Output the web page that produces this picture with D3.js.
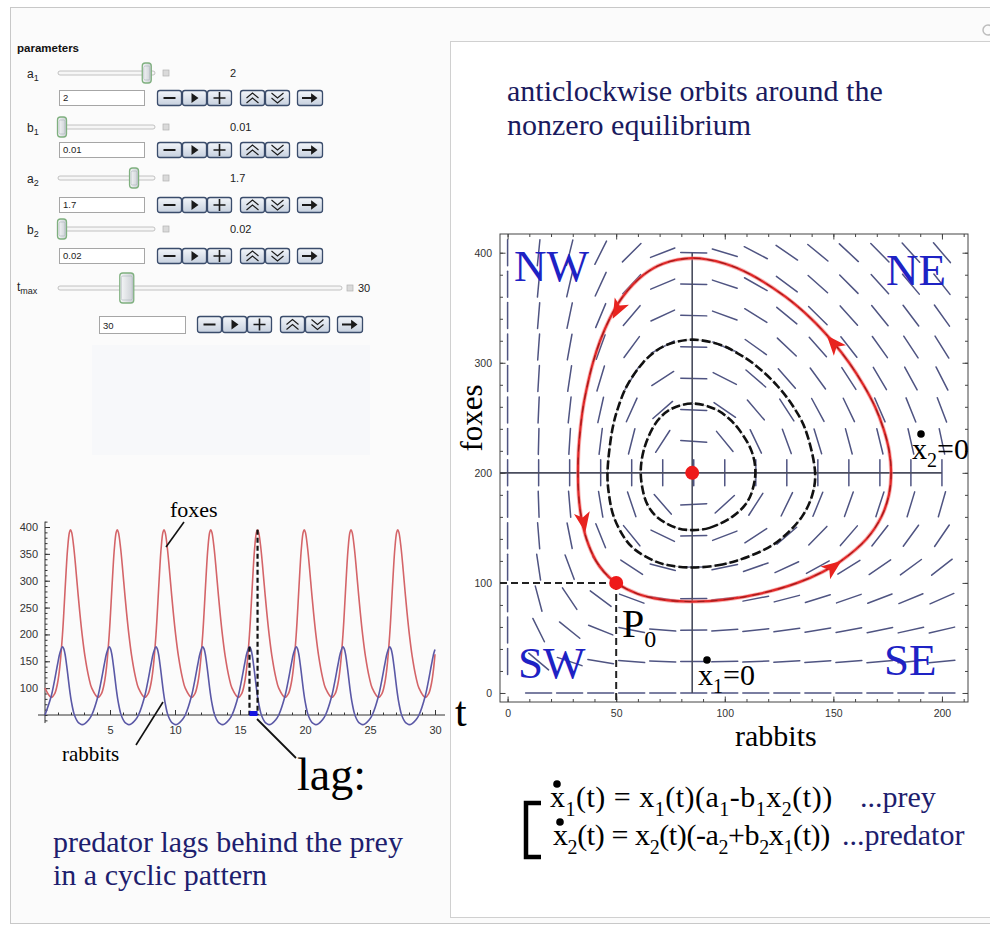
<!DOCTYPE html>
<html><head><meta charset="utf-8">
<script src="https://cdn.jsdelivr.net/npm/d3@7"></script>
<style>body{margin:0;background:#fff;} svg{display:block;} text{white-space:pre;}</style>
</head><body>
<svg id="c" width="990" height="926"></svg>
<script>
// ---------------- DATA ----------------
const paramLabelMain = ["a","b","a","b"];
const paramLabelSub  = ["1","1","2","2"];
const paramValues    = [2, 0.01, 1.7, 0.02];
const paramRanges    = [[0,2.1],[0.01,0.1],[0,2.1],[0.02,0.1]];
const tmaxValue = 30;
const tmaxRange = [1,125];

// time series (t, rabbits, foxes)
const tsTimes = [
0,0.478,0.747,0.970,1.141,1.345,1.446,1.537,1.630,1.740,1.878,1.963,2.052,2.223,2.380,2.526,2.680,2.855,3.069,3.368,
3.596,4.074,4.343,4.566,4.737,4.941,5.042,5.133,5.226,5.336,5.474,5.559,5.648,5.819,5.976,6.122,6.276,6.451,6.665,6.964,
7.192,7.670,7.939,8.162,8.333,8.537,8.638,8.729,8.822,8.932,9.070,9.155,9.244,9.415,9.572,9.718,9.872,10.047,10.261,10.560,
10.788,11.266,11.535,11.758,11.929,12.133,12.234,12.325,12.418,12.528,12.666,12.751,12.840,13.011,13.168,13.314,13.468,13.643,13.857,14.156,
14.384,14.862,15.131,15.354,15.525,15.729,15.830,15.921,16.014,16.124,16.262,16.347,16.436,16.607,16.764,16.910,17.064,17.239,17.453,17.752,
17.980,18.458,18.727,18.950,19.121,19.325,19.426,19.517,19.610,19.720,19.858,19.943,20.032,20.203,20.360,20.506,20.660,20.835,21.049,21.348,
21.576,22.054,22.323,22.546,22.717,22.921,23.022,23.113,23.206,23.316,23.454,23.539,23.628,23.799,23.956,24.102,24.256,24.431,24.645,24.944,
25.172,25.650,25.919,26.142,26.313,26.517,26.618,26.709,26.802,26.912,27.050,27.135,27.224,27.395,27.552,27.698,27.852,28.027,28.241,28.540,
28.768,29.246,29.515,29.738,29.909,30.0];
const tsRabbits = [
50,85,116,145,165,177,173,164,149,128,100,85,72,53,43,37,34,32,34,41,
50,85,116,145,165,177,173,164,149,128,100,85,72,53,43,37,34,32,34,41,
50,85,116,145,165,177,173,164,149,128,100,85,72,53,43,37,34,32,34,41,
50,85,116,145,165,177,173,164,149,128,100,85,72,53,43,37,34,32,34,41,
50,85,116,145,165,177,173,164,149,128,100,85,72,53,43,37,34,32,34,41,
50,85,116,145,165,177,173,164,149,128,100,85,72,53,43,37,34,32,34,41,
50,85,116,145,165,177,173,164,149,128,100,85,72,53,43,37,34,32,34,41,
50,85,116,145,165,177,173,164,149,128,100,85,72,53,43,37,34,32,34,41,
50,85,116,145,165,172];
const tsFoxes = [
100,83,90,110,140,200,240,280,320,360,390,395,390,360,320,280,240,200,160,120,
100,83,90,110,140,200,240,280,320,360,390,395,390,360,320,280,240,200,160,120,
100,83,90,110,140,200,240,280,320,360,390,395,390,360,320,280,240,200,160,120,
100,83,90,110,140,200,240,280,320,360,390,395,390,360,320,280,240,200,160,120,
100,83,90,110,140,200,240,280,320,360,390,395,390,360,320,280,240,200,160,120,
100,83,90,110,140,200,240,280,320,360,390,395,390,360,320,280,240,200,160,120,
100,83,90,110,140,200,240,280,320,360,390,395,390,360,320,280,240,200,160,120,
100,83,90,110,140,200,240,280,320,360,390,395,390,360,320,280,240,200,160,120,
100,83,90,110,140,163];
const tsYTicks = [100,150,200,250,300,350,400];
const tsXTicks = [5,10,15,20,25,30];
const lagTimes = [15.73, 16.35];
const lagPeaks = [177, 395];

// phase plane
const phaseXTicks = [0,50,100,150,200];
const phaseYTicks = [0,100,200,300,400];
const equilibrium = [85,200];
const startPoint = [50,100];
const orbitP0 = [[85,83],[101,85],[115.8,90],[133.4,100],[145,110],[153.6,120],[165.3,140],[172.1,160],[175.6,180],[176.6,200],[175.7,220],[173.1,240],[169.2,260],[163.8,280],[157.3,300],[149.3,320],[139.8,340],[127.9,360],[112.1,380],[100.2,390],[85,395],[71.6,390],[62.7,380],[53,360],[47,340],[42.6,320],[39.3,300],[36.8,280],[34.8,260],[33.5,240],[32.65,220],[32.4,200],[32.7,180],[33.9,160],[36.3,140],[40.7,120],[44.4,110],[50,100],[60,90],[70.7,85]];
const orbitOuter = [[85,114],[96.8,116],[105.2,120],[118,130],[125.9,140],[135.5,160],[140.3,180],[141.6,200],[137,240],[131.6,260],[123.8,280],[112.7,300],[104.7,310],[98.5,316],[85,321],[73,316],[67.8,310],[62.3,300],[55.2,280],[51,260],[48.3,240],[46,200],[46.7,180],[48.9,160],[54.1,140],[58.8,130],[67.5,120],[74.2,116]];
const orbitInner = [[85,148],[93,150],[103.4,160],[109,170],[112,180],[114.1,200],[112.3,220],[106.3,240],[101.5,250],[95.5,258],[85,263],[75.3,258],[70.2,250],[66.6,240],[62.6,220],[61.3,200],[62.75,180],[64.7,170],[68.7,160],[77.7,150]];
const arrowSpots = [[50.5,348],[35,155],[150,114.5],[150,318]];
const fieldX = [0,14.29,28.57,42.86,57.14,71.43,85.71,100,114.29,128.57,142.86,157.14,171.43,185.71,200];
const fieldY = [0,28.57,57.14,85.71,114.29,142.86,171.43,200,228.57,257.14,285.71,314.29,342.86,371.43,400];
// segment angle (degrees, screen) at each grid point; row = fieldY index, column = fieldX index
const fieldAngles = [
[null,0,0,0,0,0,0,0,0,0,0,0,0,0,0],
[90,-40,-18.5,-9.4,-4.7,-1.8,0.1,1.5,2.5,3.3,3.9,4.4,4.9,5.2,5.6],
[90,-63.5,-38.7,-21.7,-11.2,-4.4,0.2,3.5,5.9,7.8,9.3,10.5,11.6,12.4,13.1],
[90,-75.1,-56.3,-36.8,-20.3,-8.2,0.4,6.5,11.0,14.5,17.1,19.2,21.0,22.4,23.6],
[90,-81.5,-69.5,-53.0,-33.4,-14.4,0.6,11.5,19.1,24.6,28.7,31.8,34.3,36.2,37.9],
[90,-85.4,-78.7,-68.1,-51.0,-25.7,1.2,20.8,33.0,40.7,45.8,49.3,52.0,54.0,55.6],
[90,-88.1,-85.2,-80.5,-71.4,-49.1,2.9,42.4,57.3,64.1,67.9,70.3,72.0,73.1,74.0],
[90,90,90,90,90,90,90,90,90,90,90,90,90,90,90],
[90,88.6,86.4,82.9,75.8,57.0,-3.9,-50.6,-64.3,-70.0,-73.1,-75.0,-76.3,-77.2,-77.9],
[90,87.5,83.7,77.4,65.8,40.9,-2.2,-34.4,-49.5,-57.1,-61.6,-64.5,-66.5,-68.0,-69.1],
[90,86.6,81.5,73.3,58.7,32.7,-1.6,-26.9,-40.9,-48.9,-53.9,-57.2,-59.6,-61.4,-62.8],
[90,85.9,79.7,70.0,53.7,27.9,-1.3,-22.7,-35.5,-43.4,-48.5,-52.0,-54.6,-56.5,-58.0],
[90,85.3,78.2,67.3,49.9,24.8,-1.2,-20.1,-31.9,-39.5,-44.6,-48.2,-50.8,-52.9,-54.4],
[90,84.7,77.0,65.2,47.0,22.7,-1.0,-18.2,-29.4,-36.7,-41.7,-45.2,-47.9,-50.0,-51.6],
[90,84.3,76.0,63.4,44.7,21.1,-1.0,-16.9,-27.5,-34.5,-39.4,-43.0,-45.6,-47.7,-49.4]];

// ---------------- DRAWING ----------------
const serif = "'Liberation Serif','Times New Roman',serif";
const sans = "'Liberation Sans',Arial,sans-serif";
const svg = d3.select("#c");
const defs = svg.append("defs");
const bg = defs.append("linearGradient").attr("id","btnGrad").attr("x1",0).attr("y1",0).attr("x2",0).attr("y2",1);
bg.append("stop").attr("offset","0%").attr("stop-color","#f3f6fa");
bg.append("stop").attr("offset","100%").attr("stop-color","#c6d0de");
const tg = defs.append("linearGradient").attr("id","thumbGrad").attr("x1",0).attr("y1",0).attr("x2",1).attr("y2",0);
tg.append("stop").attr("offset","0%").attr("stop-color","#f8f9fa");
tg.append("stop").attr("offset","100%").attr("stop-color","#c9ced3");

svg.append("rect").attr("width",990).attr("height",926).attr("fill","#fff");
svg.append("rect").attr("x",10.5).attr("y",7.5).attr("width",1000).attr("height",916).attr("fill","#fbfbfb").attr("stroke","#c8c8c8");
svg.append("rect").attr("x",450.5).attr("y",41.5).attr("width",560).attr("height",876).attr("fill","#fff").attr("stroke","#d0d0d0");
svg.append("circle").attr("cx",988).attr("cy",30).attr("r",5).attr("fill","none").attr("stroke","#bdbdbd").attr("stroke-width",1.5);
svg.append("rect").attr("x",92).attr("y",345).attr("width",278).attr("height",110).attr("fill","#f7f8fa");

// ---------- controls ----------
const ui = svg.append("g").attr("font-family",sans);
ui.append("text").attr("x",17).attr("y",52).attr("font-size",11.5).attr("font-weight","bold").attr("fill","#111").text("parameters");

function sliderDraw(x0,x1,cy,cx,big,valText,valX,sqOff){
  ui.append("rect").attr("x",x0).attr("y",cy-2).attr("width",x1-x0).attr("height",4).attr("rx",2)
    .attr("fill","#f6f6f6").attr("stroke","#b5b5b5").attr("stroke-width",0.8);
  const w = big?14:9, h = big?30:20;
  ui.append("rect").attr("x",cx-w/2).attr("y",cy-h/2).attr("width",w).attr("height",h).attr("rx",3)
    .attr("fill","url(#thumbGrad)").attr("stroke","#7fb07f").attr("stroke-width",1.3);
  ui.append("rect").attr("x",cx-w/2+1.5).attr("y",cy-h/2+3).attr("width",w-3).attr("height",h-6).attr("rx",1.5)
    .attr("fill","none").attr("stroke","#aab1b8").attr("stroke-width",0.6);
  ui.append("rect").attr("x",x1+sqOff).attr("y",cy-3).attr("width",6).attr("height",6)
    .attr("fill","#dadada").attr("stroke","#b3b3b3").attr("stroke-width",0.7);
  ui.append("text").attr("x",valX).attr("y",cy+4).attr("font-size",11).attr("fill","#222").text(valText);
}
function inputBox(x,y,w,h,txt){
  ui.append("rect").attr("x",x+0.5).attr("y",y+0.5).attr("width",w).attr("height",h).attr("fill","#fff").attr("stroke","#a6a6a6");
  ui.append("text").attr("x",x+4).attr("y",y+h-4).attr("font-size",9.5).attr("fill","#222").text(txt);
}
function button(x,y,w,h,kind){
  ui.append("rect").attr("x",x+0.5).attr("y",y+0.5).attr("width",w-1).attr("height",h-1).attr("rx",2.5)
    .attr("fill","url(#btnGrad)").attr("stroke","#3a4c6b").attr("stroke-width",1.3);
  const cx=x+w/2, cy=y+h/2, s="#1a1a1a";
  if(kind==="minus") ui.append("line").attr("x1",cx-6).attr("x2",cx+6).attr("y1",cy).attr("y2",cy).attr("stroke",s).attr("stroke-width",2);
  if(kind==="play") ui.append("path").attr("d",`M${cx-3},${cy-5}L${cx+4},${cy}L${cx-3},${cy+5}Z`).attr("fill",s);
  if(kind==="plus") ui.append("path").attr("d",`M${cx-6},${cy}H${cx+6}M${cx},${cy-6}V${cy+6}`).attr("stroke",s).attr("stroke-width",1.6);
  if(kind==="up") ui.append("path").attr("d",`M${cx-6},${cy}L${cx},${cy-5}L${cx+6},${cy}M${cx-6},${cy+5}L${cx},${cy}L${cx+6},${cy+5}`).attr("stroke",s).attr("fill","none").attr("stroke-width",1.1);
  if(kind==="down") ui.append("path").attr("d",`M${cx-6},${cy-5}L${cx},${cy}L${cx+6},${cy-5}M${cx-6},${cy}L${cx},${cy+5}L${cx+6},${cy}`).attr("stroke",s).attr("fill","none").attr("stroke-width",1.1);
  if(kind==="arrow") ui.append("path").attr("d",`M${cx-8},${cy}H${cx+5}M${cx+2},${cy-3}L${cx+6},${cy}L${cx+2},${cy+3}Z`).attr("stroke",s).attr("fill",s).attr("stroke-width",1.8);
}
function buttonRow(x,y,h){
  const offs=[0,25,50,83,108,140], kinds=["minus","play","plus","up","down","arrow"];
  offs.forEach((o,i)=>button(x+o,y,i===5?26:25,h,kinds[i]));
}
const rowSliderY=[73,127,178,229], rowInputY=[90,142,197,248];
paramValues.forEach((v,i)=>{
  const s = d3.scaleLinear().domain(paramRanges[i]).range([62,151]);
  const lab = ui.append("text").attr("x",27).attr("y",rowSliderY[i]+5).attr("font-size",12).attr("fill","#222");
  lab.append("tspan").text(paramLabelMain[i]);
  lab.append("tspan").attr("font-size",9).attr("dy",3).text(paramLabelSub[i]);
  sliderDraw(58,155,rowSliderY[i],s(v),false,String(v),230,8);
  inputBox(59,rowInputY[i],85,15,String(v));
  buttonRow(157,rowInputY[i],16);
});
{
  const s = d3.scaleLinear().domain(tmaxRange).range([62,339]);
  const lab = ui.append("text").attr("x",17).attr("y",291).attr("font-size",12).attr("fill","#222");
  lab.append("tspan").text("t");
  lab.append("tspan").attr("font-size",9).attr("dy",3).text("max");
  sliderDraw(58,342,288,s(tmaxValue),true,String(tmaxValue),358,5);
  inputBox(99,316,86,17,String(tmaxValue));
  buttonRow(197,316,17);
}

// ---------- time series ----------
const ts = svg.append("g");
const tx = d3.scaleLinear().domain([0,30]).range([45,435]);
const ty = d3.scaleLinear().domain([50,400]).range([715,527]);
ts.append("line").attr("x1",45).attr("x2",45).attr("y1",ty(35)).attr("y2",ty(410)).attr("stroke","#333");
ts.append("line").attr("x1",38).attr("x2",445).attr("y1",715).attr("y2",715).attr("stroke","#333");
const yMin = ts.append("g").attr("transform","translate(45,0)").call(d3.axisLeft(ty).tickValues(d3.range(40,411,10)).tickSize(-2.5).tickFormat(""));
const yMaj = ts.append("g").attr("transform","translate(45,0)").call(d3.axisLeft(ty).tickValues(tsYTicks).tickSize(-5).tickPadding(7));
const xMin = ts.append("g").attr("transform","translate(0,715)").call(d3.axisBottom(tx).tickValues(d3.range(1,31,1)).tickSize(-2.5).tickFormat(""));
const xMaj = ts.append("g").attr("transform","translate(0,715)").call(d3.axisBottom(tx).tickValues(tsXTicks).tickSize(-5).tickPadding(11));
[yMin,yMaj,xMin,xMaj].forEach(g=>{g.select(".domain").remove(); g.selectAll("line").attr("stroke","#333");
  g.selectAll("text").attr("font-family",sans).attr("font-size",11).attr("fill","#333");});
const idx = d3.range(tsTimes.length);
const lineR = d3.line().x(i=>tx(tsTimes[i])).y(i=>ty(tsRabbits[i])).curve(d3.curveCatmullRom);
const lineF = d3.line().x(i=>tx(tsTimes[i])).y(i=>ty(tsFoxes[i])).curve(d3.curveCatmullRom);
ts.append("path").attr("d",lineF(idx)).attr("fill","none").attr("stroke","#d46468").attr("stroke-width",1.6);
ts.append("path").attr("d",lineR(idx)).attr("fill","none").attr("stroke","#5a58a6").attr("stroke-width",1.6);
lagTimes.forEach((t,i)=>ts.append("line").attr("x1",tx(t)).attr("x2",tx(t)).attr("y1",ty(lagPeaks[i])).attr("y2",715)
  .attr("stroke","#111").attr("stroke-width",2.2).attr("stroke-dasharray","5,3"));
ts.append("rect").attr("x",tx(lagTimes[0])).attr("y",711).attr("width",tx(lagTimes[1])-tx(lagTimes[0])).attr("height",5).attr("fill","#1515e0");
ts.append("text").attr("x",170).attr("y",517).attr("font-family",serif).attr("font-size",22).text("foxes");
ts.append("line").attr("x1",184).attr("y1",522).attr("x2",166).attr("y2",547).attr("stroke","#111").attr("stroke-width",1.6);
ts.append("text").attr("x",62).attr("y",761).attr("font-family",serif).attr("font-size",21).text("rabbits");
ts.append("line").attr("x1",136).attr("y1",745).attr("x2",163).attr("y2",702).attr("stroke","#111").attr("stroke-width",1.6);
ts.append("text").attr("x",297).attr("y",790).attr("font-family",serif).attr("font-size",46).text("lag:");
ts.append("line").attr("x1",257).attr("y1",719).attr("x2",296).attr("y2",758).attr("stroke","#111").attr("stroke-width",1.8);
ts.append("text").attr("x",53).attr("y",852).attr("font-family",serif).attr("font-size",30).attr("fill","#1e1e6e").text("predator lags behind the prey");
ts.append("text").attr("x",53).attr("y",885).attr("font-family",serif).attr("font-size",30).attr("fill","#1e1e6e").text("in a cyclic pattern");
ts.append("text").attr("x",455).attr("y",726).attr("font-family",serif).attr("font-size",42).text("t");

// ---------- phase plane ----------
const ph = svg.append("g");
const px = d3.scaleLinear().domain([-3.5,212]).range([500,968]);
const py = d3.scaleLinear().domain([-8.2,417]).range([702,234]);
ph.append("text").attr("x",507).attr("y",101).attr("font-family",serif).attr("font-size",30).attr("fill","#1a1a5e").text("anticlockwise orbits around the");
ph.append("text").attr("x",507).attr("y",135).attr("font-family",serif).attr("font-size",30).attr("fill","#1a1a5e").text("nonzero equilibrium");

// field
const fg = ph.append("g").attr("stroke","#4f5482").attr("stroke-width",1.5).attr("stroke-linecap","round");
fieldAngles.forEach((row,j)=>row.forEach((a,i)=>{
  if(a===null) return;
  const cx=px(fieldX[i]), cy=py(fieldY[j]), r=a*Math.PI/180, h=13;
  fg.append("line").attr("x1",cx-Math.cos(r)*h).attr("y1",cy+Math.sin(r)*h).attr("x2",cx+Math.cos(r)*h).attr("y2",cy-Math.sin(r)*h);
}));
// nullcline cross
ph.append("line").attr("x1",px(equilibrium[0])).attr("x2",px(equilibrium[0])).attr("y1",py(0)).attr("y2",py(400)).attr("stroke","#4a4d5e").attr("stroke-width",1.6);
ph.append("line").attr("x1",px(-3.5)).attr("x2",px(200)).attr("y1",py(equilibrium[1])).attr("y2",py(equilibrium[1])).attr("stroke","#4a4d5e").attr("stroke-width",1.6);

// frame & ticks
ph.append("rect").attr("x",500).attr("y",234).attr("width",468).attr("height",468).attr("fill","none").attr("stroke","#444");
const axes = [
  ph.append("g").attr("transform","translate(0,702)").call(d3.axisBottom(px).tickValues(d3.range(0,211,10)).tickSize(-3).tickFormat("")),
  ph.append("g").attr("transform","translate(0,702)").call(d3.axisBottom(px).tickValues(phaseXTicks).tickSize(-5.5).tickPadding(8)),
  ph.append("g").attr("transform","translate(0,234)").call(d3.axisTop(px).tickValues(d3.range(0,211,10)).tickSize(-3).tickFormat("")),
  ph.append("g").attr("transform","translate(0,234)").call(d3.axisTop(px).tickValues(phaseXTicks).tickSize(-5.5).tickFormat("")),
  ph.append("g").attr("transform","translate(500,0)").call(d3.axisLeft(py).tickValues(d3.range(0,401,20)).tickSize(-3).tickFormat("")),
  ph.append("g").attr("transform","translate(500,0)").call(d3.axisLeft(py).tickValues(phaseYTicks).tickSize(-5.5).tickPadding(8)),
  ph.append("g").attr("transform","translate(968,0)").call(d3.axisRight(py).tickValues(d3.range(0,401,20)).tickSize(-3).tickFormat("")),
  ph.append("g").attr("transform","translate(968,0)").call(d3.axisRight(py).tickValues(phaseYTicks).tickSize(-5.5).tickFormat(""))];
axes.forEach(g=>{g.select(".domain").remove(); g.selectAll("line").attr("stroke","#444");
  g.selectAll("text").attr("font-family",sans).attr("font-size",10.5).attr("fill","#333");});

// orbits
const oline = d3.line().x(d=>px(d[0])).y(d=>py(d[1])).curve(d3.curveCatmullRomClosed);
[orbitOuter,orbitInner].forEach(o=>{
  ph.append("path").attr("d",oline(o)).attr("fill","none").attr("stroke","#9a9a9a").attr("stroke-width",1).attr("opacity",0.6);
  ph.append("path").attr("d",oline(o)).attr("fill","none").attr("stroke","#111").attr("stroke-width",2.6).attr("stroke-dasharray","9,3");
});
ph.append("path").attr("d",oline(orbitP0)).attr("fill","none").attr("stroke","#f08080").attr("stroke-width",4).attr("opacity",0.55);
ph.append("path").attr("d",oline(orbitP0)).attr("fill","none").attr("stroke","#e02828").attr("stroke-width",2.2);
ph.append("path").attr("d",oline(orbitP0)).attr("fill","none").attr("stroke","#7a1515").attr("stroke-width",1).attr("stroke-dasharray","7,6").attr("opacity",0.7);
// arrowheads
arrowSpots.forEach(p=>{
  let best=0, bd=1e9;
  orbitP0.forEach((q,k)=>{const d=(q[0]-p[0])**2+(q[1]-p[1])**2; if(d<bd){bd=d;best=k;}});
  const n=orbitP0.length, a=orbitP0[(best-1+n)%n], b=orbitP0[(best+1)%n];
  const ang = Math.atan2(py(b[1])-py(a[1]), px(b[0])-px(a[0]))*180/Math.PI;
  ph.append("path").attr("d","M10,0L-10,-8L-5,0L-10,8Z").attr("fill","#e8231f")
    .attr("transform",`translate(${px(p[0])},${py(p[1])}) rotate(${ang})`);
});
// P0 guides
ph.append("line").attr("x1",500).attr("x2",px(startPoint[0])).attr("y1",py(startPoint[1])).attr("y2",py(startPoint[1])).attr("stroke","#222").attr("stroke-width",2).attr("stroke-dasharray","7,4");
ph.append("line").attr("x1",px(startPoint[0])).attr("x2",px(startPoint[0])).attr("y1",py(startPoint[1])).attr("y2",702).attr("stroke","#222").attr("stroke-width",2).attr("stroke-dasharray","7,4");
[equilibrium,startPoint].forEach(p=>ph.append("circle").attr("cx",px(p[0])).attr("cy",py(p[1])).attr("r",7).attr("fill","#ee1a1a"));

// labels
const blue="#1e22c4";
[["NW",514,281],["NE",886,285],["SW",518,678],["SE",884,675]].forEach(d=>
  ph.append("text").attr("x",d[1]).attr("y",d[2]).attr("font-family",serif).attr("font-size",45).attr("fill",blue).text(d[0]));
ph.append("text").attr("x",735).attr("y",746).attr("font-family",serif).attr("font-size",30).text("rabbits");
ph.append("text").attr("transform","translate(482,418) rotate(-90)").attr("text-anchor","middle").attr("font-family",serif).attr("font-size",31).text("foxes");
{
  const t=ph.append("text").attr("x",622).attr("y",637).attr("font-family",serif).attr("font-size",40);
  t.append("tspan").text("P"); t.append("tspan").attr("font-size",24).attr("dy",10).text("0");
}
function dotLabel(x,y,sub){
  const t=ph.append("text").attr("x",x).attr("y",y).attr("font-family",serif).attr("font-size",30);
  t.append("tspan").text("x"); t.append("tspan").attr("font-size",20).attr("dy",8).text(sub); t.append("tspan").attr("dy",-8).text("=0");
  ph.append("circle").attr("cx",x+9).attr("cy",y-25).attr("r",3.8).attr("fill","#000");
}
dotLabel(912,459,"2");
dotLabel(698,685,"1");

// equations
const eq = svg.append("g");
eq.append("path").attr("d","M541,803H526V857H541").attr("fill","none").attr("stroke","#000").attr("stroke-width",4.5);
function eqLine(x,y,parts,ls){
  const t=eq.append("text").attr("x",x).attr("y",y).attr("font-family",serif).attr("font-size",30).attr("letter-spacing",ls);
  let cur=0;
  parts.forEach(p=>{const tgt=p[1]?9:0; t.append("tspan").attr("dy",tgt-cur).attr("font-size",p[1]?20:30).text(p[0]); cur=tgt;});
  eq.append("circle").attr("cx",x+7).attr("cy",y-23).attr("r",3.8).attr("fill","#000");
}
eqLine(550,807,[["x",0],["1",1],["(t) = x",0],["1",1],["(t)(a",0],["1",1],["-b",0],["1",1],["x",0],["2",1],["(t))",0]],0.5);
eqLine(553,845,[["x",0],["2",1],["(t) = x",0],["2",1],["(t)(-a",0],["2",1],["+b",0],["2",1],["x",0],["1",1],["(t))",0]],-0.4);
eq.append("text").attr("x",860).attr("y",807).attr("font-family",serif).attr("font-size",30).attr("fill","#1e1e6e").text("...prey");
eq.append("text").attr("x",842).attr("y",845).attr("font-family",serif).attr("font-size",30).attr("fill","#1e1e6e").text("...predator");
</script></body></html>
